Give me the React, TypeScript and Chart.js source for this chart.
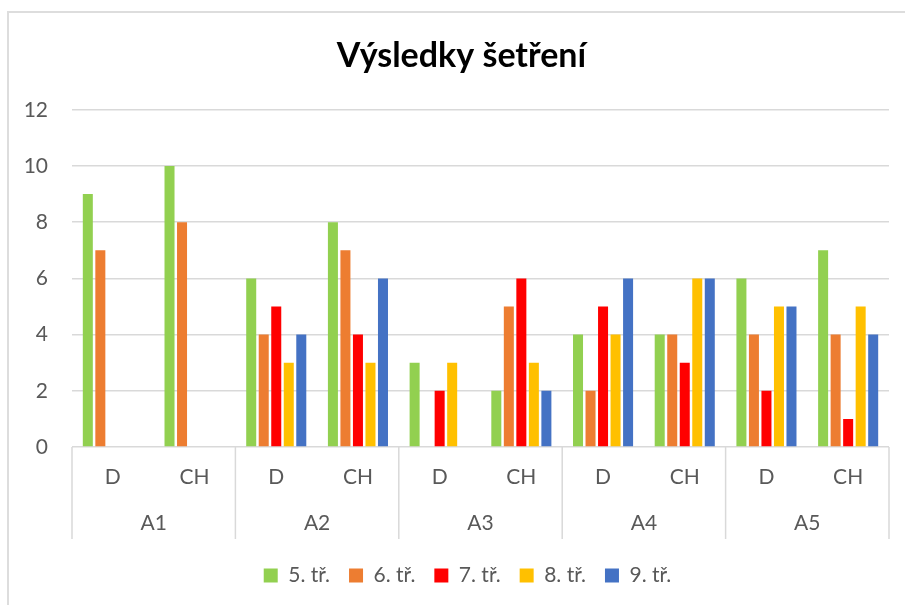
import React, { useEffect, useRef } from "react";
import { Chart, registerables } from "chart.js";

Chart.register(...registerables);

const subCategories = ["D", "CH", "D", "CH", "D", "CH", "D", "CH", "D", "CH"];
const groups = ["A1", "A2", "A3", "A4", "A5"];
const seriesNames = ["5. tř.", "6. tř.", "7. tř.", "8. tř.", "9. tř."];
const seriesColors = ["#92D050", "#ED7D31", "#FF0000", "#FFC000", "#4472C4"];
const grade5 = [9, 10, 6, 8, 3, 2, 4, 4, 6, 7];
const grade6 = [7, 8, 4, 7, 0, 5, 2, 4, 4, 4];
const grade7 = [0, 0, 5, 4, 2, 6, 5, 3, 2, 1];
const grade8 = [0, 0, 3, 3, 3, 3, 4, 6, 5, 5];
const grade9 = [0, 0, 4, 6, 0, 2, 6, 6, 5, 4];
const seriesValues = [grade5, grade6, grade7, grade8, grade9];
const yTicks = [0, 2, 4, 6, 8, 10, 12];

const FONT = "Lato, 'Open Sans', sans-serif";
const TEXT = "#595959";
const GRID = "#D9D9D9";

const groupSeparators = {
  id: "groupSeparators",
  afterLayout(chart: any) {
    if (chart.legend) {
      chart.legend.left += 23;
      chart.legend.right += 23;
    }
    if (chart.titleBlock) {
      chart.titleBlock.left += 17;
      chart.titleBlock.right += 17;
    }
  },
  afterDraw(chart: any) {
    const x2 = chart.scales.x2;
    const { ctx, chartArea } = chart;
    const n = groups.length;
    const half = (x2.getPixelForValue(1) - x2.getPixelForValue(0)) / 2;
    ctx.save();
    ctx.strokeStyle = GRID;
    ctx.lineWidth = 1.5;
    for (let i = 0; i <= n; i++) {
      const x = i < n ? x2.getPixelForValue(i) - half : x2.getPixelForValue(n - 1) + half;
      ctx.beginPath();
      ctx.moveTo(x, chartArea.bottom);
      ctx.lineTo(x, x2.top + 30);
      ctx.stroke();
    }
    ctx.restore();
  },
};

export default function App() {
  const ref = useRef<HTMLCanvasElement>(null);
  useEffect(() => {
    if (!ref.current) return;
    const chart = new Chart(ref.current, {
      type: "bar",
      data: {
        labels: subCategories,
        datasets: seriesNames.map((name, i) => ({
          label: name,
          data: seriesValues[i],
          backgroundColor: seriesColors[i],
          borderWidth: 0,
          categoryPercentage: 0.766,
          barPercentage: 0.8,
          xAxisID: "x",
        })),
      },
      options: {
        responsive: false,
        animation: false,
        layout: { padding: { left: 0, right: 16, top: 0, bottom: 9 } },
        plugins: {
          title: {
            display: true,
            text: "Výsledky šetření",
            color: "#000000",
            font: { family: FONT, size: 34, weight: "bold" },
            padding: { top: 36, bottom: 33 },
          },
          legend: {
            position: "bottom",
            labels: {
              boxWidth: 14,
              boxHeight: 14,
              padding: 19,
              color: TEXT,
              font: { family: FONT, size: 21 },
            },
          },
          tooltip: { enabled: false },
        },
        scales: {
          x: {
            type: "category",
            position: "bottom",
            offset: true,
            grid: { display: false, drawTicks: false },
            border: { display: false },
            ticks: { color: TEXT, font: { family: FONT, size: 21 }, padding: 18, maxRotation: 0, autoSkip: false },
            afterFit: (s: any) => { s.height = 62; },
          },
          x2: {
            type: "category",
            labels: groups,
            position: "bottom",
            offset: true,
            grid: { display: false, drawTicks: false },
            border: { display: false },
            ticks: { color: TEXT, font: { family: FONT, size: 21 }, padding: 2, maxRotation: 0, autoSkip: false },
            afterFit: (s: any) => { s.height = 37; },
          },
          y: {
            min: 0,
            max: 12,
            afterBuildTicks: (s: any) => { s.ticks = yTicks.map((v) => ({ value: v })); },
            grid: { color: GRID, lineWidth: 1.5, drawTicks: false },
            border: { display: false },
            ticks: { color: TEXT, font: { family: FONT, size: 21 }, padding: 24 },
            afterFit: (s: any) => { s.width = 72; },
          },
        },
      },
      plugins: [groupSeparators],
    });
    return () => chart.destroy();
  }, []);

  return (
    <div style={{ position: "fixed", left: 0, top: 0, width: 905, height: 605, overflow: "hidden", background: "#fff" }}>
      <div
        style={{
          position: "absolute",
          left: 7,
          top: 11,
          width: 1000,
          height: 1000,
          borderTop: "2px solid #DDDDDD",
          borderLeft: "2px solid #DDDDDD",
        }}
      />
      <canvas ref={ref} width={905} height={605} style={{ position: "absolute", left: 0, top: 0 }} />
    </div>
  );
}
